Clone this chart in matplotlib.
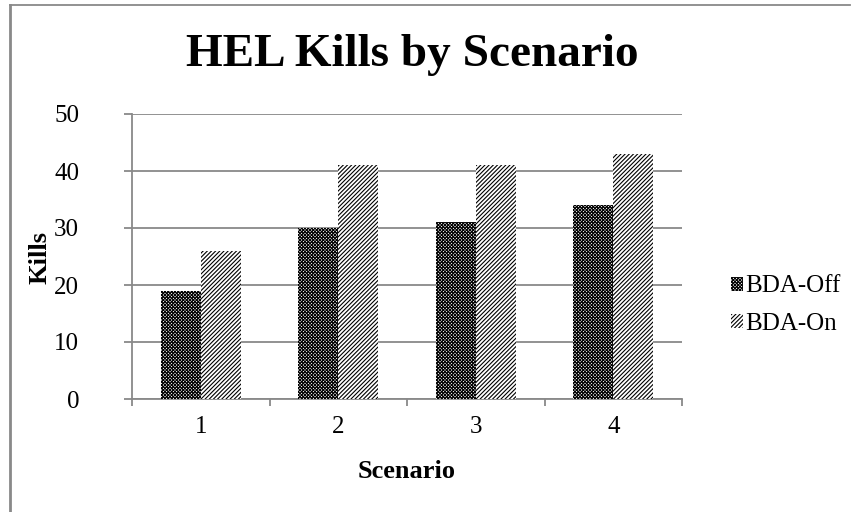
import matplotlib
matplotlib.use("Agg")
import matplotlib.pyplot as plt
from matplotlib.lines import Line2D
import numpy as np

scenarios = [1, 2, 3, 4]
bda_off = [19, 30, 31, 34]
bda_on = [26, 41, 41, 43]
yticks = [0, 10, 20, 30, 40, 50]

plt.rcParams['font.family'] = ['Liberation Serif', 'DejaVu Serif']
plt.rcParams['hatch.linewidth'] = 0.8

grey = '#898989'

fig = plt.figure(figsize=(8.6, 5.12), dpi=100)
ax = fig.add_axes([132 / 860, 1 - 399 / 512, 550 / 860, 285 / 512])

x = np.array(scenarios)
w = 0.29
ax.bar(x - w / 2, bda_off, w, color='white', edgecolor='black', hatch='x' * 10,
       linewidth=0, label='BDA-Off', zorder=3)
ax.bar(x + w / 2, bda_on, w, color='white', edgecolor='black', hatch='/' * 8,
       linewidth=0, label='BDA-On', zorder=3)

ax.set_xlim(0.5, 4.5)
ax.set_ylim(0, 50)
ax.set_yticks(yticks)
ax.set_xticks(scenarios)
ax.set_xticks([0.5, 1.5, 2.5, 3.5, 4.5], minor=True)
ax.yaxis.grid(True, color=grey, linewidth=1.3, zorder=0)
ax.set_axisbelow(True)

for s in ['top', 'right']:
    ax.spines[s].set_visible(False)
for s in ['left', 'bottom']:
    ax.spines[s].set_color(grey)
    ax.spines[s].set_linewidth(1.3)

ax.tick_params(axis='y', length=6, width=1.3, color=grey, labelsize=18, pad=32)
ax.tick_params(axis='x', which='major', length=0, labelsize=18, pad=12)
ax.tick_params(axis='x', which='minor', length=5, width=1.3, color=grey)

ax.set_xlabel('Scenario', fontsize=19, fontweight='bold', labelpad=16)
ax.set_ylabel('Kills', fontsize=19, fontweight='bold')
ax.yaxis.set_label_coords(-0.147, 0.495)

fig.text(0.5 * (132 + 682) / 860 + 0.006, 1 - 55 / 512, 'HEL Kills by Scenario',
         ha='center', va='center', fontsize=34, fontweight='bold')

leg = ax.legend(loc='center left', bbox_to_anchor=(718 / 860, 1 - 305 / 512),
                bbox_transform=fig.transFigure, frameon=False, fontsize=18,
                handlelength=0.5, handleheight=0.5, handletextpad=0.1,
                labelspacing=0.6, borderpad=0)

# chart frame
fig.add_artist(Line2D([10 / 860, 10 / 860], [0, 1 - 5 / 512], transform=fig.transFigure,
                      color=grey, linewidth=2))
fig.add_artist(Line2D([10 / 860, 850 / 860], [1 - 5 / 512, 1 - 5 / 512],
                      transform=fig.transFigure, color=grey, linewidth=1.3))

fig.savefig('out.png', dpi=100)
